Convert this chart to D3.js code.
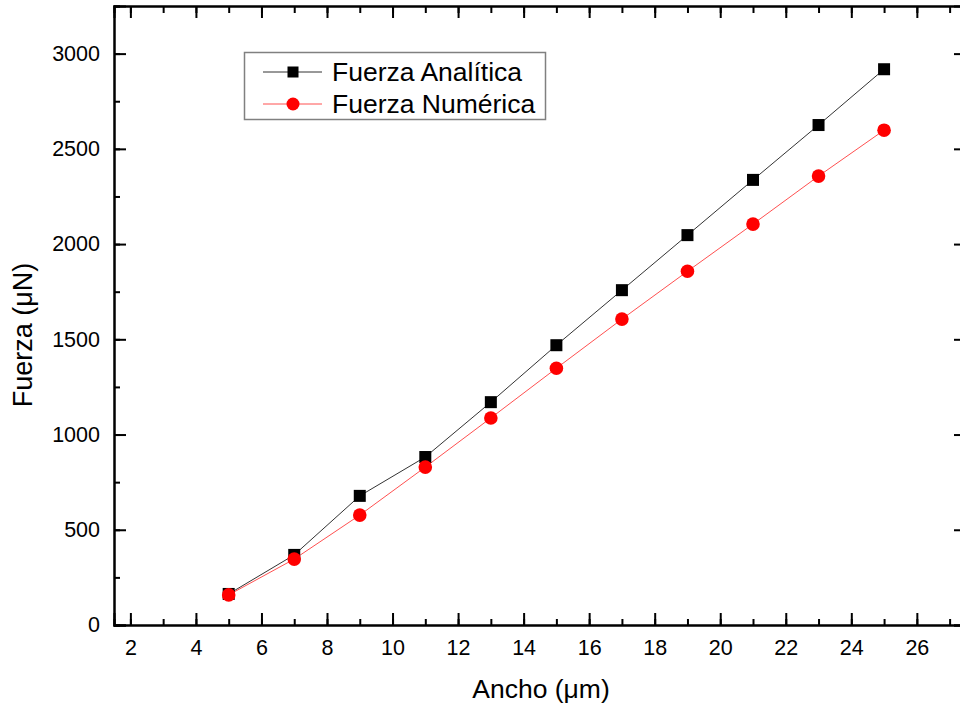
<!DOCTYPE html>
<html>
<head>
<meta charset="utf-8">
<script src="https://cdn.jsdelivr.net/npm/d3@7"></script>
<style>
  html, body { margin: 0; padding: 0; background: #fff; }
  svg { display: block; }
  text { font-family: "Liberation Sans", Arial, sans-serif; fill: #000; }
</style>
</head>
<body>
<svg id="chart" width="960" height="708"></svg>
<script>
// ---- data ----
const anchoUm = [5, 7, 9, 11, 13, 15, 17, 19, 21, 23, 25];
const fuerzaAnalitica = [163, 368, 678, 882, 1170, 1469, 1758, 2047, 2337, 2625, 2918];
const fuerzaNumerica = [158, 346, 577, 829, 1087, 1348, 1606, 1857, 2105, 2357, 2598];
const seriesNames = ["Fuerza Analítica", "Fuerza Numérica"];
const xTickValues = [2, 4, 6, 8, 10, 12, 14, 16, 18, 20, 22, 24, 26];
const yTickValues = [0, 500, 1000, 1500, 2000, 2500, 3000];
const xTitle = "Ancho (μm)";
const yTitle = "Fuerza (μN)";

// ---- layout ----
const svg = d3.select("#chart");
const pLeft = 114, pRight = 966, pTop = 6, pBottom = 625;
const x = d3.scaleLinear().domain([1.5, 27.5]).range([pLeft, pRight]);
const y = d3.scaleLinear().domain([0, 3250]).range([pBottom, pTop]);

const xMinor = d3.range(2, 28, 1);
const yMinor = d3.range(0, 3251, 250);

const axisStroke = 2;
const gB = svg.append("g").attr("transform", `translate(0,${pBottom})`)
  .call(d3.axisBottom(x).tickValues(xMinor).tickSize(-6).tickFormat(""));
const gB2 = svg.append("g").attr("transform", `translate(0,${pBottom})`)
  .call(d3.axisBottom(x).tickValues(xTickValues).tickSize(-12).tickPadding(26).tickFormat(d3.format("d")));
const gT = svg.append("g").attr("transform", `translate(0,${pTop})`)
  .call(d3.axisTop(x).tickValues(xMinor).tickSize(-7).tickFormat(""));
const gT2 = svg.append("g").attr("transform", `translate(0,${pTop})`)
  .call(d3.axisTop(x).tickValues(xTickValues).tickSize(-12).tickFormat(""));
const gL = svg.append("g").attr("transform", `translate(${pLeft},0)`)
  .call(d3.axisLeft(y).tickValues(yMinor).tickSize(-6).tickFormat(""));
const gL2 = svg.append("g").attr("transform", `translate(${pLeft},0)`)
  .call(d3.axisLeft(y).tickValues(yTickValues).tickSize(-12).tickPadding(14).tickFormat(d3.format("d")));
const gR = svg.append("g").attr("transform", `translate(${pRight},0)`)
  .call(d3.axisRight(y).tickValues(yMinor).tickSize(-6).tickFormat(""));
const gR2 = svg.append("g").attr("transform", `translate(${pRight},0)`)
  .call(d3.axisRight(y).tickValues(yTickValues).tickSize(-12).tickFormat(""));

[gB, gB2, gT, gT2, gL, gL2, gR, gR2].forEach(g => {
  g.selectAll(".domain").attr("stroke", "#000").attr("stroke-width", axisStroke);
  g.selectAll(".tick line").attr("stroke", "#000").attr("stroke-width", axisStroke);
  g.selectAll("text").style("font-family", '"Liberation Sans", Arial, sans-serif')
    .style("font-size", "21.5px").attr("fill", "#000");
});
gB2.selectAll("text").attr("dy", "0.71em").attr("y", 15);

// Axis titles
svg.append("text")
  .attr("x", 541).attr("y", 698)
  .attr("text-anchor", "middle")
  .style("font-size", "26.5px")
  .text(xTitle);
svg.append("text")
  .attr("transform", "translate(32,335) rotate(-90)")
  .attr("text-anchor", "middle")
  .style("font-size", "27px")
  .text(yTitle);

// Lines
const lineGen = d3.line().x(d => x(d[0])).y(d => y(d[1]));
const dataA = anchoUm.map((v, i) => [v, fuerzaAnalitica[i]]);
const dataN = anchoUm.map((v, i) => [v, fuerzaNumerica[i]]);

svg.append("path").datum(dataA).attr("d", lineGen)
  .attr("fill", "none").attr("stroke", "#333").attr("stroke-width", 1);
svg.append("path").datum(dataN).attr("d", lineGen)
  .attr("fill", "none").attr("stroke", "#ff5050").attr("stroke-width", 1);

const sq = 12;
svg.append("g").selectAll("rect").data(dataA).join("rect")
  .attr("x", d => x(d[0]) - sq / 2).attr("y", d => y(d[1]) - sq / 2)
  .attr("width", sq).attr("height", sq).attr("fill", "#000");
svg.append("g").selectAll("circle").data(dataN).join("circle")
  .attr("cx", d => x(d[0])).attr("cy", d => y(d[1])).attr("r", 6.8)
  .attr("fill", "#ff0000");

// Legend
const lg = svg.append("g");
lg.append("rect").attr("x", 244.5).attr("y", 52.5).attr("width", 301).attr("height", 67)
  .attr("fill", "#fff").attr("stroke", "#808080").attr("stroke-width", 1.5);
const rows = [72, 104];
seriesNames.forEach((name, i) => {
  const cy = rows[i];
  lg.append("line").attr("x1", 263).attr("x2", 322).attr("y1", cy).attr("y2", cy)
    .attr("stroke", i === 0 ? "#333" : "#ff5050").attr("stroke-width", 1);
  if (i === 0) {
    lg.append("rect").attr("x", 293 - 5.5).attr("y", cy - 5.5).attr("width", 11).attr("height", 11).attr("fill", "#000");
  } else {
    lg.append("circle").attr("cx", 293).attr("cy", cy).attr("r", 6.5).attr("fill", "#ff0000");
  }
  lg.append("text").attr("x", 332).attr("y", cy + 9)
    .style("font-size", "26.5px").text(name);
});
</script>
</body>
</html>
